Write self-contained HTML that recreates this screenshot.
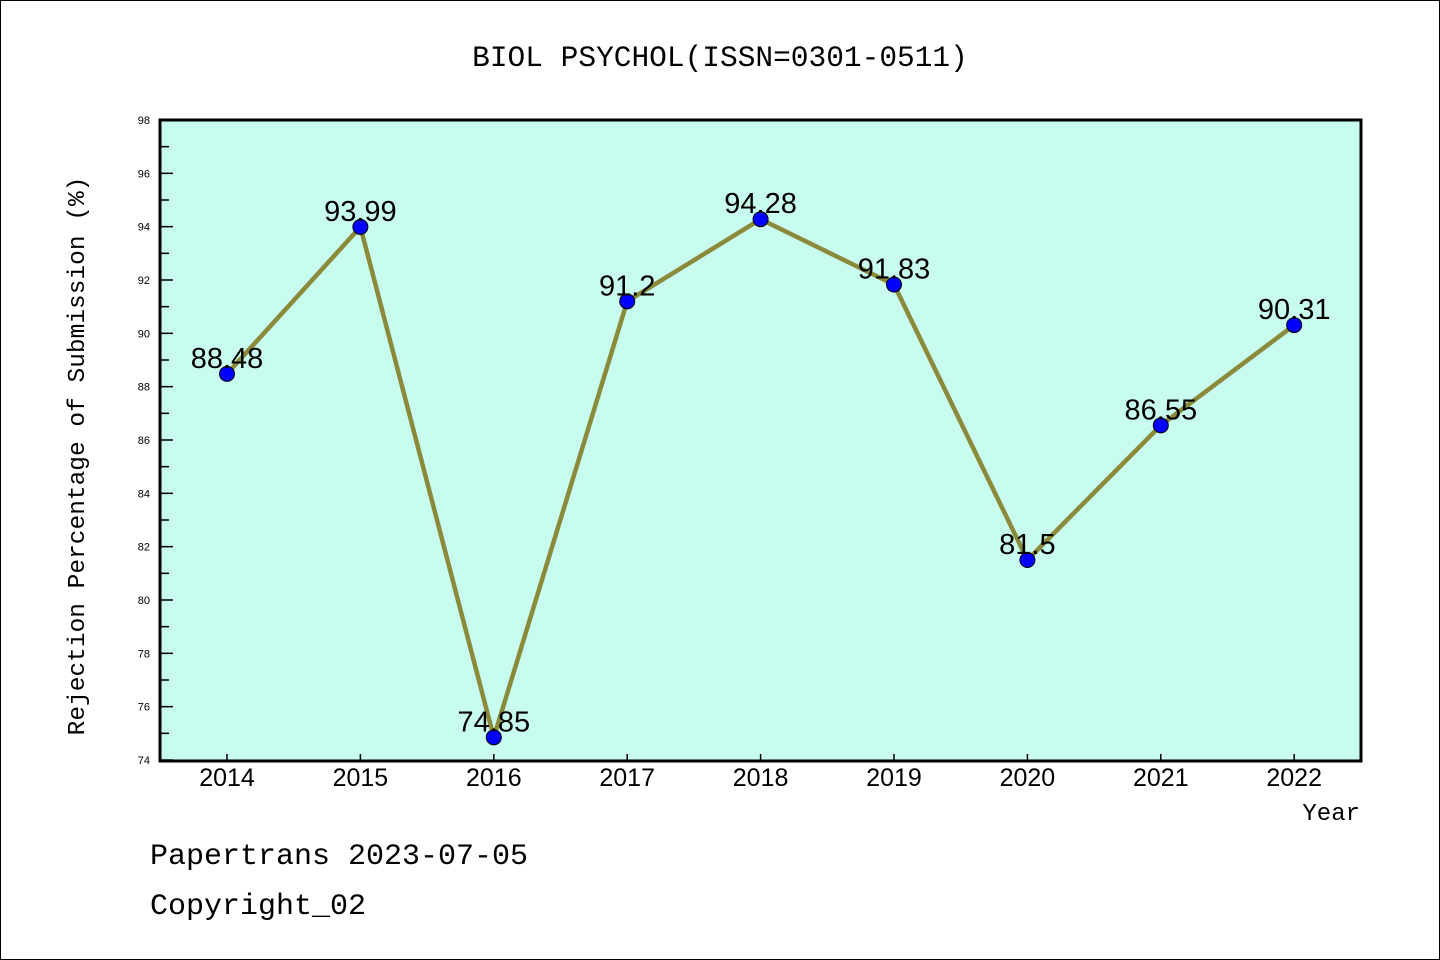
<!DOCTYPE html>
<html><head><meta charset="utf-8"><style>
body{margin:0;background:#fff}
svg{display:block;font-family:"Liberation Sans",sans-serif}
.m{font-family:"Liberation Mono",monospace}
</style></head><body>
<svg id="c" width="1440" height="960" viewBox="0 0 1440 960">
<rect x="0.5" y="0.5" width="1439" height="959" fill="#fff" stroke="#000"/>
<text class="m" x="720" y="66" text-anchor="middle" font-size="29.5">BIOL PSYCHOL(ISSN=0301-0511)</text>
<rect x="160" y="120" width="1201" height="641" fill="#c8fcee"/>
<g id="axes"></g>
<g id="series"></g>
<rect x="160" y="120" width="1201" height="641" fill="none" stroke="#000" stroke-width="3"/>
<text class="m" transform="translate(84,456) rotate(-90)" text-anchor="middle" font-size="24.5">Rejection Percentage of Submission (%)</text>
<text class="m" x="1360" y="820" text-anchor="end" font-size="24">Year</text>
<text class="m" x="150" y="864" font-size="30">Papertrans 2023-07-05</text>
<text class="m" x="150" y="914" font-size="30">Copyright_02</text>
</svg>
<script>
const categories=["2014","2015","2016","2017","2018","2019","2020","2021","2022"];
const values=[88.48,93.99,74.85,91.2,94.28,91.83,81.5,86.55,90.31];
const valueLabels=["88.48","93.99","74.85","91.2","94.28","91.83","81.5","86.55","90.31"];
const yTicks=[74,76,78,80,82,84,86,88,90,92,94,96,98];
const NS="http://www.w3.org/2000/svg";
const x=i=>227+i*133.4;
const y=v=>760-(v-74)*(640/24);
function mk(t,a,p){const e=document.createElementNS(NS,t);for(const k in a)e.setAttribute(k,a[k]);p.appendChild(e);return e;}
const ax=document.getElementById('axes'),se=document.getElementById('series');
yTicks.forEach((t,i)=>{
 const l=mk('line',{x1:160,x2:173,y1:y(t),y2:y(t),stroke:'#000','stroke-width':1.5},ax);
 
 
 const tx=mk('text',{x:150,y:y(t)+4,'text-anchor':'end','font-size':11},ax);tx.textContent=t;
 
 
 if(i<yTicks.length-1){const m=mk('line',{x1:160,x2:169,y1:y(t+1),y2:y(t+1),stroke:'#000','stroke-width':1.5},ax);
 
 }
});
categories.forEach((c,i)=>{
 const l=mk('line',{x1:x(i),x2:x(i),y1:754,y2:760,stroke:'#000','stroke-width':1.5},ax);
 
 
 const t=mk('text',{x:x(i),y:786,'text-anchor':'middle','font-size':25},ax);t.textContent=c;
 
 
});
const pl=mk('polyline',{points:values.map((v,i)=>x(i)+','+y(v)).join(' '),fill:'none',stroke:'#8b8a3a','stroke-width':4.5,'stroke-linejoin':'round'},se);


values.forEach((v,i)=>{
 const c=mk('circle',{cx:x(i),cy:y(v),r:7.5,fill:'#0000ff',stroke:'#000','stroke-width':1},se);
 
 
 const t=mk('text',{x:x(i),y:y(v)-6,'text-anchor':'middle','font-size':29},se);t.textContent=valueLabels[i];
 
 
});
</script>
</body></html>
